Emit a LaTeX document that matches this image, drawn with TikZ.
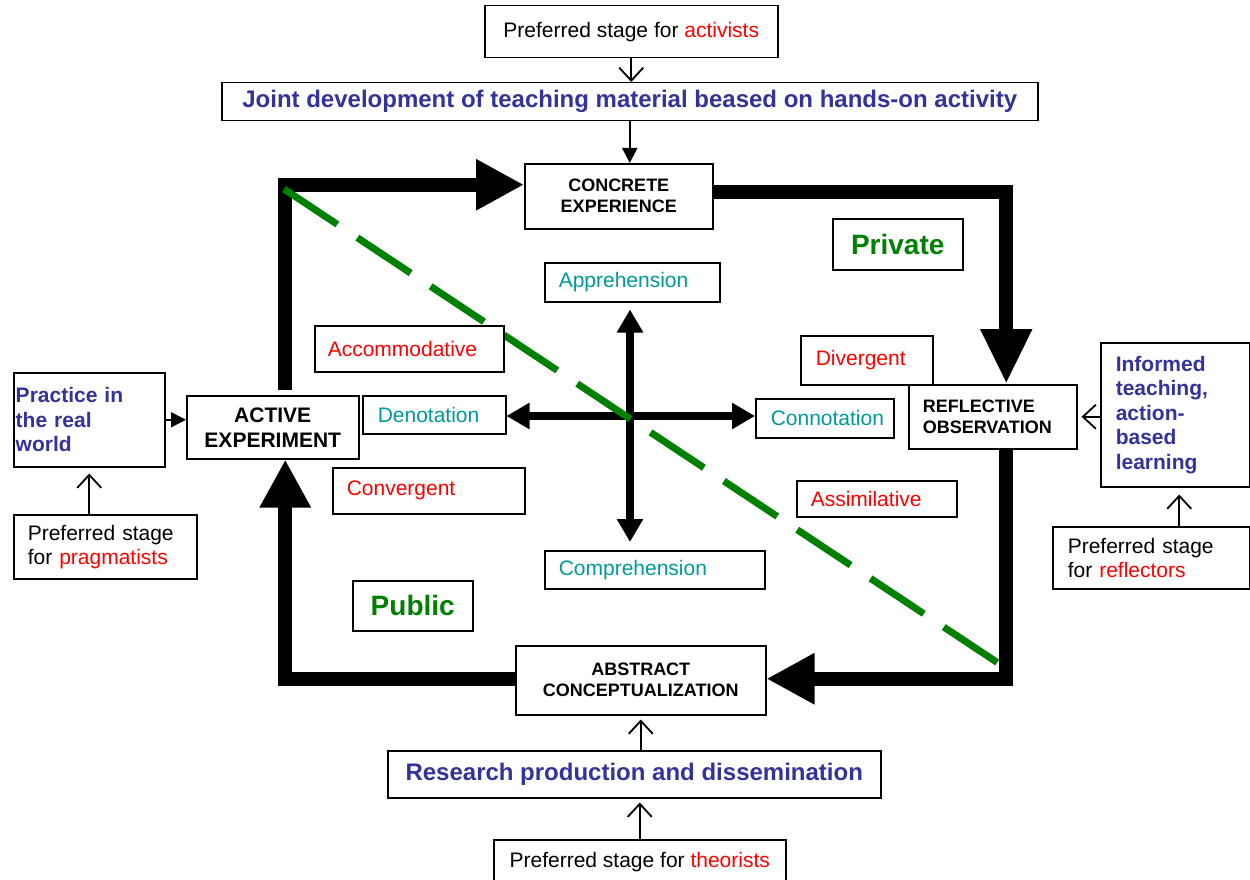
\documentclass[tikz,border=0pt]{standalone}
\usepackage{fontspec}
\setmainfont{Liberation Sans}
\usetikzlibrary{arrows.meta}
\usetikzlibrary{backgrounds}
\definecolor{stageblue}{RGB}{51,51,153}
\definecolor{modeteal}{RGB}{0,153,153}
\definecolor{zonegreen}{RGB}{0,128,0}

\begin{document}
\begin{tikzpicture}[x=1pt,y=-1pt,
    box/.style={draw, line width=1.5pt, fill=white, anchor=north west, inner ysep=0pt, font=\fontsize{21}{24}\selectfont},
    cbox/.style={box, align=center, inner xsep=0pt},
    lbox/.style={box, align=left, inner xsep=#1},
    lbox/.default=14pt,
    stage/.style={font=\fontsize{18}{21}\selectfont\bfseries},
    bluehead/.style={text=stageblue, font=\fontsize{24}{28}\selectfont\bfseries},
    side/.style={text=stageblue, font=\fontsize{21}{24.5}\selectfont\bfseries},
    zonelabel/.style={text=zonegreen, font=\fontsize{28}{32}\selectfont\bfseries},
    link/.style={line width=1.8pt, -{Straight Barb[length=13pt,width=24pt]}},
    feed/.style={line width=1.5pt, -{Triangle[length=15pt,width=15pt]}},
    cyc/.style={line width=14pt, line join=miter, -{Triangle[length=48pt,width=48pt]}},
    axis/.style={line width=7.5pt, -{Triangle[length=23pt,width=25pt]}},
    zone/.style={zonegreen, line width=7pt, dash pattern=on 64pt off 24pt}
]
\useasboundingbox (0,0) rectangle (1250,880);

\node[cbox, minimum width=293pt, minimum height=52pt] (prefact) at (484,5) {Preferred stage for \textcolor{red}{activists}};
\node[cbox, bluehead, minimum width=816pt, minimum height=38pt] (joint) at (221,82) {Joint development of teaching material beased on hands-on activity};
\node[cbox, stage, minimum width=188pt, minimum height=65pt] (ce) at (524,163) {CONCRETE\\EXPERIENCE};
\node[cbox, zonelabel, minimum width=130pt, minimum height=51pt] (priv) at (832,218) {Private};
\node[lbox, text=modeteal, text width=147pt, minimum height=39pt] (appr) at (544,262) {Apprehension};
\node[lbox=13pt, text=red, text width=163pt, minimum height=46pt] (accom) at (314,325) {Accommodative};
\node[lbox=15pt, text=red, text width=102pt, minimum height=49pt] (diverg) at (800,335) {Divergent};
\node[lbox=2pt, side, text width=147pt, minimum height=94pt] (pract) at (13,372) {Practice in\\the real\\world};
\node[cbox, font=\fontsize{21}{25}\selectfont\bfseries, minimum width=172pt, minimum height=63pt] (ae) at (186,395) {ACTIVE\\EXPERIMENT};
\node[lbox=15pt, text=modeteal, text width=113pt, minimum height=38pt] (denot) at (362,395) {Denotation};
\node[lbox=15pt, text=modeteal, text width=108pt, minimum height=39pt] (connot) at (755,398) {Connotation};
\node[lbox, stage, text width=140pt, minimum height=64pt] (ro) at (908,384) {REFLECTIVE\\OBSERVATION};
\node[lbox=15pt, side, text width=119pt, minimum height=144pt] (inform) at (1100,342) {Informed\\teaching,\\action-\\based\\learning};
\node[lbox, text=red, text width=164pt, minimum height=46pt] (conv) at (332,467) {Convergent};
\node[lbox, text=red, text width=132pt, minimum height=36pt] (assim) at (796,480) {Assimilative};
\node[lbox, text width=155pt, minimum height=64pt] (prefprag) at (13,514) {Preferred stage\\for \textcolor{red}{pragmatists}};
\node[lbox=15pt, text width=167pt, minimum height=62pt] (prefrefl) at (1052,526) {Preferred stage\\for \textcolor{red}{reflectors}};
\node[lbox, text=modeteal, text width=192pt, minimum height=38pt] (compr) at (544,550) {Comprehension};
\node[cbox, zonelabel, minimum width=120pt, minimum height=50pt] (public) at (352,580) {Public};
\node[cbox, stage, minimum width=250pt, minimum height=69pt] (ac) at (515,645) {ABSTRACT\\CONCEPTUALIZATION};
\node[cbox, bluehead, minimum width=493pt, minimum height=47pt] (resrch) at (387,750) {Research production and dissemination};
\node[cbox, minimum width=292pt, minimum height=44pt] (preftheo) at (493,839) {Preferred stage for \textcolor{red}{theorists}};

\coordinate (hub) at (630,416);
\coordinate (zs) at (284,189);
\coordinate (ze) at (998,663);

\begin{pgfonlayer}{background}
\draw[cyc, shorten <=5pt] ([xshift=12.5pt]ae.north) |- ([yshift=11.5pt]ce.west);
\draw[cyc, -{Triangle[length=55pt,width=48pt]}] ([yshift=4.5pt]ce.east) -| ([xshift=13.5pt]ro.north);
\draw[cyc] ([xshift=13.5pt]ro.south) |- ([yshift=1.5pt]ac.east);
\draw[cyc] ([yshift=1.5pt]ac.west) -| ([xshift=12.5pt]ae.south);
\draw[axis, shorten >=7pt] (hub) -- (hub |- appr.south);
\draw[axis, shorten >=8pt] (hub) -- (hub |- compr.north);
\draw[axis] (hub) -- (hub -| denot.east);
\draw[axis] (hub) -- (hub -| connot.west);
\draw[zone] (zs) -- (ze);
\end{pgfonlayer}

\draw[link] (prefact.south) -- (prefact.south |- joint.north);
\draw[feed] (joint.south) -- (joint.south |- ce.north);
\draw[feed] (pract.east) -- (pract.east -| ae.west);
\draw[link, shorten >=6pt] (prefprag.north -| pract.south) -- (pract.south);
\draw[link, shorten >=7pt] ([xshift=4pt]prefrefl.north -| inform.south) -- ([xshift=4pt]inform.south);
\draw[link, shorten >=4pt] (inform.west |- ro.east) -- (ro.east);
\draw[link, shorten >=4pt] (resrch.north -| ac.south) -- (ac.south);
\draw[link, shorten >=4pt] (preftheo.north) -- (preftheo.north |- resrch.south);
\end{tikzpicture}
\end{document}
